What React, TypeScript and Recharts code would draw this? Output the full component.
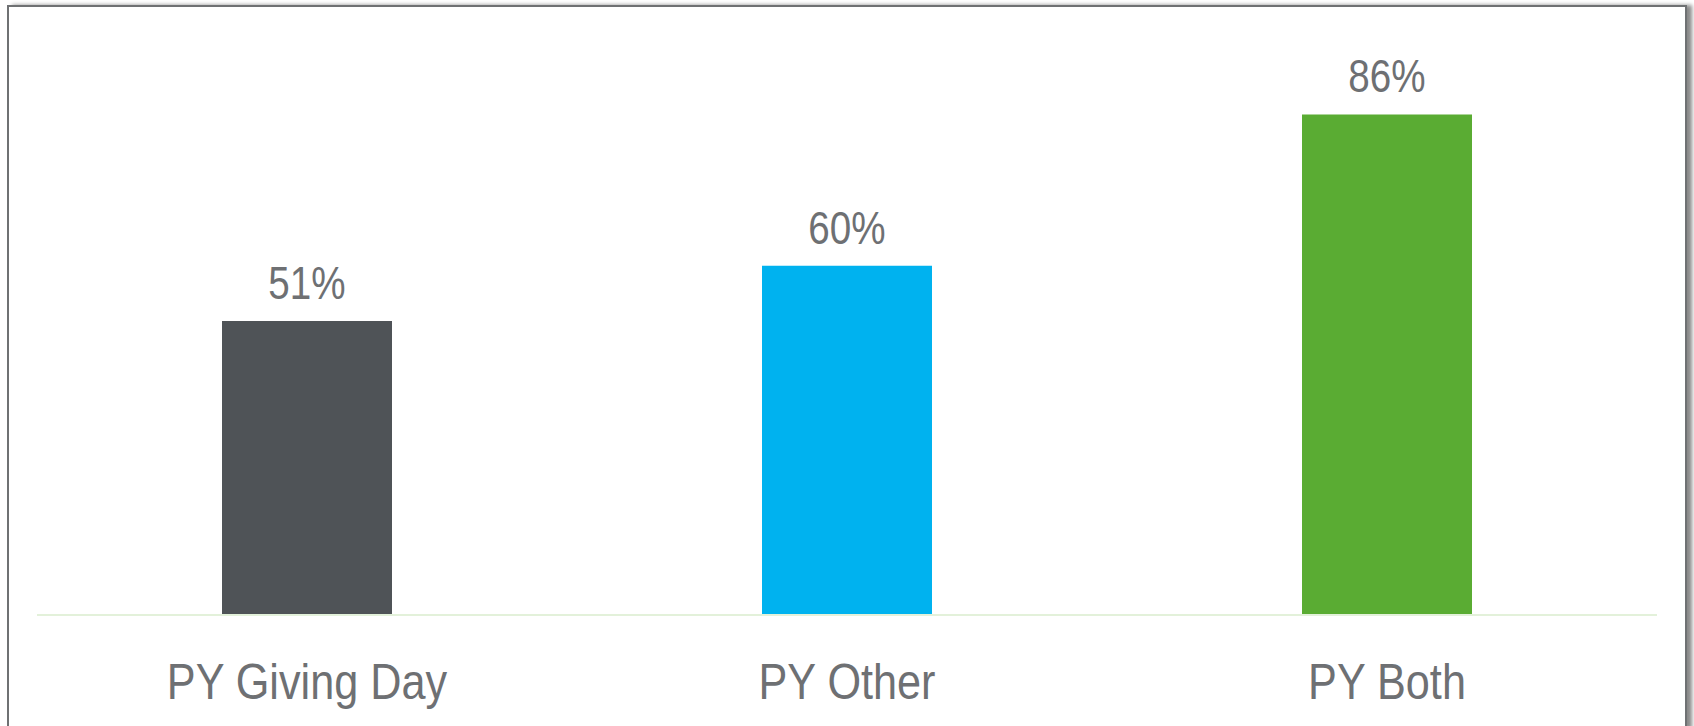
import React from 'react';
import { BarChart, Bar, XAxis, YAxis, Cell, LabelList } from 'recharts';

const categories = ['PY Giving Day', 'PY Other', 'PY Both'];
const values = [50.5, 60, 86];
const valueLabels = ['51%', '60%', '86%'];
const colors = ['#4f5357', '#00b2ef', '#5aac33'];

const data = categories.map((name, i) => ({ name, value: values[i], label: valueLabels[i] }));

const FONT = "'Liberation Sans', Arial, sans-serif";
const TEXT_COLOR = '#6e7073';

const AxisTick = (props: any) => {
  const { x, y, payload } = props;
  return (
    <g transform={`translate(${x},${y + 76}) scale(0.865,1)`}>
      <text x={0} y={0} textAnchor="middle" fill={TEXT_COLOR} fontSize={50} fontFamily={FONT}>
        {payload.value}
      </text>
    </g>
  );
};

const ValueLabel = (props: any) => {
  const { x, y, width, index } = props;
  const cx = Number(x) + Number(width) / 2;
  const ty = Number(y) - 22;
  return (
    <g transform={`translate(${cx},${ty}) scale(0.84,1)`}>
      <text x={0} y={0} textAnchor="middle" fill={TEXT_COLOR} fontSize={46} fontFamily={FONT}>
        {valueLabels[index]}
      </text>
    </g>
  );
};

export default function App() {
  return (
    <div style={{ position: 'absolute', left: 0, top: 0, width: 1694, height: 726, background: '#fff', overflow: 'hidden' }}>
      <div
        style={{
          position: 'absolute',
          left: 7,
          top: 5,
          width: 1676,
          height: 720,
          borderTop: '2px solid #6f7173',
          borderLeft: '2px solid #6f7173',
          borderRight: '2px solid #6f7173',
          borderBottom: '2px solid #b5b5b5',
          boxShadow: '5px 0px 4px #8a8a8a',
          background: '#fff',
        }}
      />
      <div style={{ position: 'absolute', left: 0, top: 0 }}>
        <BarChart width={1694} height={726} data={data} margin={{ top: 33, right: 37, left: 37, bottom: 31 }}>
          <XAxis
            dataKey="name"
            height={80}
            tickLine={false}
            axisLine={{ stroke: '#e3f1da', strokeWidth: 2 }}
            tick={<AxisTick />}
            interval={0}
          />
          <YAxis hide width={0} domain={[0, 100]} />
          <Bar dataKey="value" barSize={170} isAnimationActive={false}>
            {data.map((d, i) => (
              <Cell key={d.name} fill={colors[i]} />
            ))}
            <LabelList dataKey="value" content={<ValueLabel />} />
          </Bar>
        </BarChart>
      </div>
    </div>
  );
}
